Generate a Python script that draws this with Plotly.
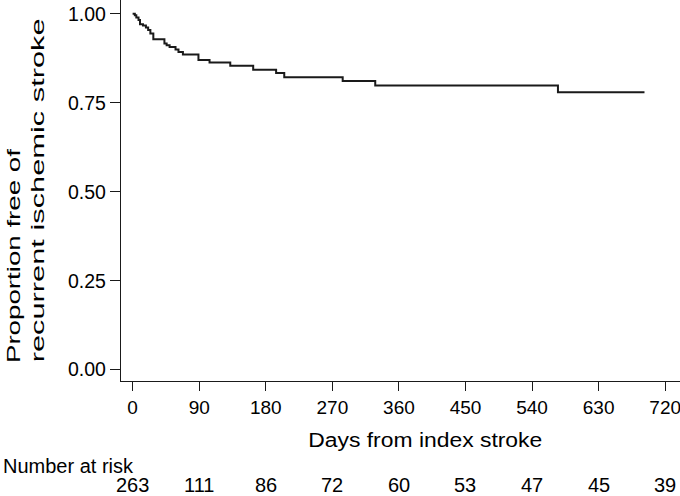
import plotly.graph_objects as go

# Kaplan-Meier step data (days, survival proportion)
days = [0, 3, 5, 8, 10, 14, 18, 21, 24, 28, 43, 46, 50, 58, 62, 68, 89, 104, 132, 163, 194, 205, 284, 328, 575, 692]
surv = [1.0, 0.996, 0.99, 0.983, 0.971, 0.967, 0.962, 0.955, 0.945, 0.929, 0.917, 0.912, 0.907, 0.9, 0.893, 0.886,
        0.870, 0.863, 0.854, 0.843, 0.834, 0.822, 0.811, 0.799, 0.780, 0.780]

x_ticks = [0, 90, 180, 270, 360, 450, 540, 630, 720]
y_ticks = [0.0, 0.25, 0.5, 0.75, 1.0]
y_tick_labels = ["0.00", "0.25", "0.50", "0.75", "1.00"]
at_risk = [263, 111, 86, 72, 60, 53, 47, 45, 39]

FONT = "Liberation Sans, Arial, sans-serif"
INK = "#1a1a1a"

fig = go.Figure()
fig.add_trace(go.Scatter(x=days, y=surv, mode="lines", line=dict(shape="hv", color=INK, width=2),
                         hoverinfo="skip", showlegend=False))

fig.update_layout(
    width=680, height=496,
    margin=dict(l=121, r=0, t=0, b=115),
    paper_bgcolor="white", plot_bgcolor="white",
    font=dict(family=FONT, color="black", size=19),
    xaxis=dict(range=[-15.7, 740], tickvals=x_ticks, ticks="outside", ticklen=9, tickwidth=1.3,
               tickcolor=INK, showline=True, linecolor=INK, linewidth=1.3, showgrid=False, zeroline=False,
               tickfont=dict(size=19), ticklabeloverflow="allow"),
    yaxis=dict(range=[-0.032, 1.039], tickvals=y_ticks, ticktext=y_tick_labels, ticks="outside", ticklen=10,
               tickwidth=1.3, tickcolor=INK, showline=True, linecolor=INK, linewidth=1.3, showgrid=False,
               zeroline=False, tickfont=dict(size=19.5)),
)

# Y axis title (two lines, rotated)
fig.add_annotation(text="Proportion free of", xref="paper", yref="paper", x=0, y=0, xanchor="center",
                   yanchor="middle", xshift=-108, yshift=125.5, textangle=-90, showarrow=False,
                   font=dict(size=19))
fig.add_annotation(text="recurrent ischemic stroke", xref="paper", yref="paper", x=0, y=0, xanchor="center",
                   yanchor="middle", xshift=-84, yshift=190.5, textangle=-90, showarrow=False,
                   font=dict(size=19))
# X axis title
fig.add_annotation(text="Days from index stroke", xref="paper", yref="paper", x=0.5, y=0,
                   xanchor="center", yanchor="middle", xshift=25, yshift=-59, showarrow=False,
                   font=dict(size=20))
# Number at risk
fig.add_annotation(text="Number at risk", xref="paper", yref="paper", x=0, y=0, xanchor="left",
                   yanchor="middle", xshift=-120, yshift=-85, showarrow=False, font=dict(size=20))
for xv, n in zip(x_ticks, at_risk):
    fig.add_annotation(text=str(n), xref="x", yref="paper", x=xv, y=0, xanchor="center", yanchor="middle",
                       yshift=-104, showarrow=False, font=dict(size=20), borderpad=0)

post = """
document.body.style.margin='0';
var gd=document.getElementById('{plot_id}');
var targets={'Proportion free of':214,'recurrent ischemic stroke':344,'Days from index stroke':234};
gd.querySelectorAll('text.annotation-text').forEach(function(t){
  var s=t.textContent;
  if(targets[s]){t.setAttribute('textLength',targets[s]);t.setAttribute('lengthAdjust','spacingAndGlyphs');}
});
"""

fig.write_html("out.html", post_script=post, config={"displayModeBar": False})
